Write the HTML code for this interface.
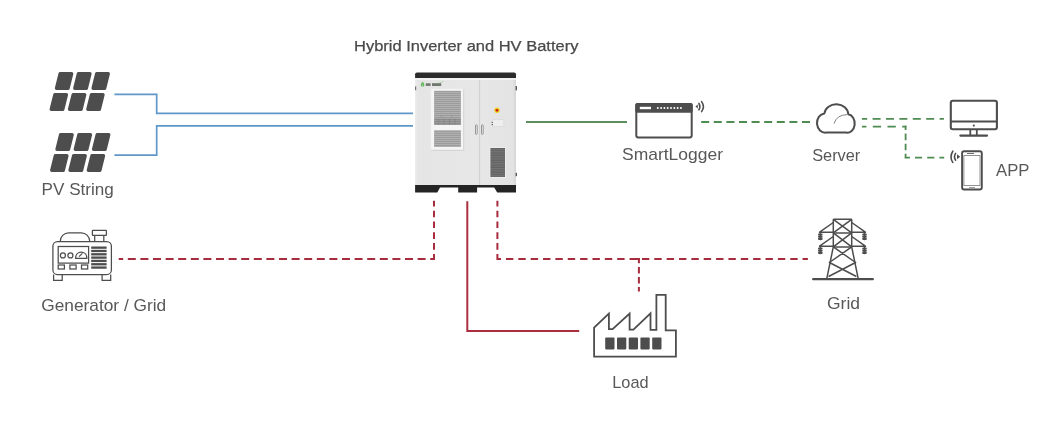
<!DOCTYPE html>
<html><head><meta charset="utf-8"><title>Hybrid Inverter and HV Battery</title>
<style>
html,body{margin:0;padding:0;background:#fff;}
body{width:1060px;height:424px;overflow:hidden;font-family:"Liberation Sans",sans-serif;}
svg{display:block;will-change:transform;}
</style></head><body>
<svg width="1060" height="424" viewBox="0 0 1060 424">
<defs>
<linearGradient id="body" x1="0" y1="0" x2="1" y2="0">
<stop offset="0" stop-color="#ececec"/><stop offset="0.03" stop-color="#e5e5e5"/><stop offset="0.6" stop-color="#e7e7e7"/><stop offset="0.97" stop-color="#e3e3e3"/><stop offset="1" stop-color="#d4d4d4"/>
</linearGradient>
<pattern id="gr1" x="0" y="0" width="8" height="2" patternUnits="userSpaceOnUse">
<rect width="8" height="2" fill="#b0b0b0"/><rect y="1" width="8" height="1" fill="#9c9c9c"/>
</pattern>
<pattern id="gr2" x="0" y="0" width="8" height="2.4" patternUnits="userSpaceOnUse">
<rect width="8" height="2.4" fill="#747474"/><rect y="1.2" width="8" height="1.2" fill="#626262"/>
</pattern>
</defs>
<g fill="none" stroke="#5f98c8" stroke-width="1.7">
<path d="M114.4,94.4 H156.7 V113.3 H413"/>
<path d="M114.4,155.2 H156.7 V125.8 H413"/>
</g>
<path d="M526,122 H627" stroke="#5b8f5d" stroke-width="2" fill="none"/>
<path d="M701.20,122.00H709.20M713.80,122.00H721.80M726.40,122.00H734.40M739.00,122.00H747.00M751.60,122.00H759.60M764.20,122.00H772.20M776.80,122.00H784.80M789.40,122.00H797.40M802.00,122.00H810.00M943.90,118.80H939.60M934.20,118.80H926.20M920.80,118.80H912.80M907.40,118.80H899.40M894.00,118.80H886.00M880.60,118.80H872.60M867.20,118.80H861.90M906.60,126.60H902.20M895.80,126.60H887.50M881.10,126.60H872.80M866.40,126.60H861.90M905.60,125.60V130.10M905.60,133.60V140.20M905.60,143.70V150.30M905.60,153.80V157.70M904.60,157.70H909.90M915.00,157.70H922.10M927.20,157.70H934.30M939.40,157.70H944.20" fill="none" stroke="#4f8c52" stroke-width="1.8"/>
<path d="M467.3,201.3 V330.9 H579.2" stroke="#aa2e3e" stroke-width="2" fill="none"/>
<path d="M435.00,258.90H430.20M425.60,258.90H417.60M413.00,258.90H405.00M400.40,258.90H392.40M387.80,258.90H379.80M375.20,258.90H367.20M362.60,258.90H354.60M350.00,258.90H342.00M337.40,258.90H329.40M324.80,258.90H316.80M312.20,258.90H304.20M299.60,258.90H291.60M287.00,258.90H279.00M274.40,258.90H266.40M261.80,258.90H253.80M249.20,258.90H241.20M236.60,258.90H228.60M224.00,258.90H216.00M211.40,258.90H203.40M198.80,258.90H190.80M186.20,258.90H178.20M173.60,258.90H165.60M161.00,258.90H153.00M148.40,258.90H140.40M135.80,258.90H127.80M123.20,258.90H118.70M434.00,259.90V253.90M434.00,249.70V243.10M434.00,238.90V232.30M434.00,228.10V221.50M434.00,217.30V210.70M434.00,206.50V200.80M497.40,259.90V253.90M497.40,249.70V243.10M497.40,238.90V232.30M497.40,228.10V221.50M497.40,217.30V210.70M497.40,206.50V200.80M496.40,258.90H501.00M505.96,258.90H513.36M518.32,258.90H525.72M530.68,258.90H538.08M543.04,258.90H550.44M555.40,258.90H562.80M567.76,258.90H575.16M580.12,258.90H587.52M592.48,258.90H599.88M604.84,258.90H612.24M617.20,258.90H624.60M629.56,258.90H636.96M641.92,258.90H649.32M654.28,258.90H661.68M666.64,258.90H674.04M679.00,258.90H686.40M691.36,258.90H698.76M703.72,258.90H711.12M716.08,258.90H723.48M728.44,258.90H735.84M740.80,258.90H748.20M753.16,258.90H760.56M765.52,258.90H772.92M777.88,258.90H785.28M790.24,258.90H797.64M802.60,258.90H807.90M638.90,257.90V263.30M638.90,266.90V273.40M638.90,277.00V283.50M638.90,287.10V291.60M635.5,258.9H640" fill="none" stroke="#a62c3e" stroke-width="2"/>
<g fill="#4d4d4d" stroke="#4d4d4d" stroke-width="3.4" stroke-linejoin="round"><polygon points="60.15,73.70 71.65,73.70 68.00,88.30 56.50,88.30"/><polygon points="78.45,73.70 89.95,73.70 86.30,88.30 74.80,88.30"/><polygon points="96.75,73.70 108.25,73.70 104.60,88.30 93.10,88.30"/><polygon points="54.90,94.70 66.40,94.70 62.75,109.30 51.25,109.30"/><polygon points="73.20,94.70 84.70,94.70 81.05,109.30 69.55,109.30"/><polygon points="91.50,94.70 103.00,94.70 99.35,109.30 87.85,109.30"/></g>
<g fill="#4d4d4d" stroke="#4d4d4d" stroke-width="3.4" stroke-linejoin="round"><polygon points="60.65,134.70 72.15,134.70 68.50,149.30 57.00,149.30"/><polygon points="78.95,134.70 90.45,134.70 86.80,149.30 75.30,149.30"/><polygon points="97.25,134.70 108.75,134.70 105.10,149.30 93.60,149.30"/><polygon points="55.40,155.70 66.90,155.70 63.25,170.30 51.75,170.30"/><polygon points="73.70,155.70 85.20,155.70 81.55,170.30 70.05,170.30"/><polygon points="92.00,155.70 103.50,155.70 99.85,170.30 88.35,170.30"/></g>
<g><rect x="415.1" y="77" width="100.9" height="109" fill="url(#body)"/><path d="M415.1,78.1 V74.3 Q415.1,72.5 417,72.5 H514.2 Q516,72.5 516,74.3 V78.1 Z" fill="#2c2c2c"/><rect x="415.1" y="78.1" width="100.9" height="1.8" fill="#f3f3f3"/><path d="M415.1,185 H516 V192.5 H497.2 L494.2,187.6 H477.1 V192.5 H458.2 V187.6 H440 L437.3,192.5 H415.1 Z" fill="#242424"/><line x1="479.6" y1="80" x2="479.6" y2="185" stroke="#c4c4c4" stroke-width="0.7"/><rect x="430.9" y="88.9" width="32.8" height="61.4" fill="#f5f5f5"/><path d="M463.7,88.9 V150.3 H430.9" fill="none" stroke="#cfcfcf" stroke-width="0.9"/><path d="M430.9,150.3 V88.9 H463.7" fill="none" stroke="#ececec" stroke-width="0.6"/><rect x="434.1" y="90.8" width="26.8" height="34.2" fill="url(#gr1)"/><rect x="434.1" y="118.6" width="26.8" height="6.4" fill="#5a5a5a" opacity="0.25"/><path d="M438.5,118.6 V125 M444,118.6 V125 M449.5,118.6 V125 M455,118.6 V125" stroke="#777" stroke-width="0.4"/><path d="M441,115.2 V117.6 M451.5,115 V117.6" stroke="#9a8070" stroke-width="0.5"/><rect x="434.1" y="130.2" width="26.8" height="16.8" fill="url(#gr1)"/><rect x="475.5" y="124.8" width="1.7" height="9.6" rx="0.85" fill="#f0f0f0" stroke="#808080" stroke-width="0.8"/><rect x="481.5" y="124.8" width="1.7" height="9.6" rx="0.85" fill="#f0f0f0" stroke="#808080" stroke-width="0.8"/><circle cx="497" cy="110.3" r="2.7" fill="#ecd21e"/><circle cx="497" cy="110.3" r="1.4" fill="#d01e1e"/><rect x="492.3" y="119.6" width="11.5" height="6.9" rx="0.6" fill="#eeeeee" stroke="#d0d0d0" stroke-width="0.5"/><rect x="491.7" y="121.9" width="1.1" height="1" fill="#3a3a3a"/><rect x="491.7" y="124.1" width="1.1" height="1" fill="#3a3a3a"/><rect x="489.5" y="147.1" width="16.4" height="30.8" fill="#eeeeee"/><rect x="490.4" y="148" width="14.6" height="29" fill="url(#gr2)"/><rect x="515.6" y="86" width="1.4" height="4.4" fill="#5a5a5a"/><rect x="515.6" y="172.8" width="1.4" height="3.4" fill="#5a5a5a"/><rect x="415.1" y="86.4" width="1.1" height="3.8" fill="#6a6a6a"/><path d="M422.6,81.8 Q424.7,83.6 424.4,85.6 Q423.6,86.8 422.6,86.8 Q421.4,86.8 420.8,85.6 Q420.6,83.6 422.6,81.8 Z" fill="#5cb356"/><path d="M422.6,83.5 V87.2" stroke="#d8ecd6" stroke-width="0.5"/><rect x="425.8" y="83.3" width="4.8" height="2.6" fill="#6f776f"/><rect x="432" y="83.2" width="9.2" height="2.8" fill="#6f776f"/><path d="M438.5,83.2 Q441,82.6 443.4,81.4" stroke="#7cc070" stroke-width="0.5" fill="none"/></g>
<g><rect x="636.3" y="104" width="55.4" height="33.4" rx="1.8" fill="none" stroke="#4d4d4d" stroke-width="2"/><rect x="635.3" y="103" width="57.4" height="9.7" rx="1.8" fill="#4d4d4d"/><rect x="639.8" y="106.8" width="11.2" height="2.4" fill="#fff"/><circle cx="657.80" cy="108" r="1" fill="#fff"/><circle cx="661.10" cy="108" r="1" fill="#fff"/><circle cx="664.40" cy="108" r="1" fill="#fff"/><circle cx="667.70" cy="108" r="1" fill="#fff"/><circle cx="671.00" cy="108" r="1" fill="#fff"/><circle cx="674.30" cy="108" r="1" fill="#fff"/><circle cx="677.60" cy="108" r="1" fill="#fff"/><circle cx="680.90" cy="108" r="1" fill="#fff"/><path d="M695.4,106.6 L697.8,104.6 V108.6 Z" fill="#4d4d4d"/><path d="M698.9,103.4 Q700.9,106.6 698.9,109.8 M701.6,101.6 Q705.2,106.6 701.6,111.6" fill="none" stroke="#4d4d4d" stroke-width="1.6" stroke-linecap="round"/></g>
<path d="M826,132.6 A8.2,9.6 0 0 1 824.4,113.4 A12,10.3 0 0 1 848.3,114.2 A7.6,9.3 0 0 1 846,132.6 Z" fill="none" stroke="#4d4d4d" stroke-width="2" stroke-linejoin="round"/>
<path d="M834,123.6 Q836.5,115 847,114.6" fill="none" stroke="#808080" stroke-width="1"/>
<g><rect x="950.8" y="100.8" width="46.1" height="28.5" rx="2" fill="none" stroke="#4d4d4d" stroke-width="2.1"/><line x1="950.8" y1="121.6" x2="996.9" y2="121.6" stroke="#4d4d4d" stroke-width="2"/><circle cx="973.8" cy="125.6" r="1.1" fill="#4d4d4d"/><path d="M970.3,130 V135 M976.8,130 V135" stroke="#4d4d4d" stroke-width="1.8"/><line x1="960.4" y1="135.6" x2="987" y2="135.6" stroke="#4d4d4d" stroke-width="2.3" stroke-linecap="round"/></g>
<g><rect x="962.1" y="151.2" width="19.7" height="38.3" rx="2" fill="none" stroke="#4d4d4d" stroke-width="1.9"/><rect x="963.9" y="155.6" width="16.1" height="30" fill="none" stroke="#777" stroke-width="0.8"/><line x1="967" y1="153.5" x2="974" y2="153.5" stroke="#4d4d4d" stroke-width="0.8"/><line x1="969" y1="187.6" x2="975" y2="187.6" stroke="#4d4d4d" stroke-width="0.6"/><path d="M960.2,156.8 L957,154.3 V159.3 Z" fill="#4d4d4d"/><path d="M955.6,153.4 Q953.4,156.8 955.6,160.2 M952.8,151.2 Q949.2,156.8 952.8,162.4" fill="none" stroke="#4d4d4d" stroke-width="1.6" stroke-linecap="round"/></g>
<g><rect x="52.9" y="241.5" width="58.5" height="33" rx="4.6" stroke="#4d4d4d" stroke-width="1.25" fill="none"/><path d="M60.2,241.5 A8.5,8.6 0 0 1 68.7,232.9 H81.3 A8.5,8.6 0 0 1 89.8,241.5" stroke="#4d4d4d" stroke-width="1.25" fill="none"/><rect x="92.4" y="230.4" width="14" height="5" rx="0.5" stroke="#4d4d4d" stroke-width="1.25" fill="none"/><path d="M94.7,235.4 V241.5 M103.8,235.4 V241.5" stroke="#4d4d4d" stroke-width="1.25" fill="none"/><rect x="58.2" y="246.5" width="30.4" height="16.6" stroke="#4d4d4d" stroke-width="1.25" fill="none"/><circle cx="62.9" cy="255.4" r="2.5" stroke="#4d4d4d" stroke-width="1.25" fill="none"/><circle cx="70.4" cy="255.4" r="2.5" stroke="#4d4d4d" stroke-width="1.25" fill="none"/><path d="M75.6,258.4 C75.6,250 86.9,250 86.9,258.4 Z" stroke="#4d4d4d" stroke-width="1.25" fill="none"/><path d="M79,256.6 L82.4,253.4" stroke="#4d4d4d" stroke-width="1.25" fill="none"/><rect x="58.2" y="265" width="6.2" height="4" stroke="#4d4d4d" stroke-width="1.25" fill="none"/><rect x="69.9" y="265" width="6.2" height="4" stroke="#4d4d4d" stroke-width="1.25" fill="none"/><rect x="81.5" y="265" width="6.2" height="4" stroke="#4d4d4d" stroke-width="1.25" fill="none"/><rect x="91.2" y="246.50" width="15.4" height="2.3" fill="#4d4d4d"/><rect x="91.2" y="249.82" width="15.4" height="2.3" fill="#4d4d4d"/><rect x="91.2" y="253.14" width="15.4" height="2.3" fill="#4d4d4d"/><rect x="91.2" y="256.46" width="15.4" height="2.3" fill="#4d4d4d"/><rect x="91.2" y="259.78" width="15.4" height="2.3" fill="#4d4d4d"/><rect x="91.2" y="263.10" width="15.4" height="2.3" fill="#4d4d4d"/><rect x="91.2" y="266.42" width="15.4" height="2.3" fill="#4d4d4d"/><path d="M53.6,274.5 V280.3 H62.2 V274.5 M102.1,274.5 V280.3 H110.7 V274.5" stroke="#4d4d4d" stroke-width="1.25" fill="none"/></g>
<path d="M594.1,356.7 V327.7 L608.9,313.5 V329.2 H612.6 L629.6,313.5 V329.6 H633.4 L650.5,313.3 V329.9 H656.4 V294.9 H665.7 V330.3 H675.9 V356.7 Z" fill="none" stroke="#4d4d4d" stroke-width="1.8" stroke-linejoin="miter"/>
<rect x="605.2" y="337.6" width="9.3" height="11.8" rx="0.8" fill="#4d4d4d"/>
<rect x="617.0" y="337.6" width="9.3" height="11.8" rx="0.8" fill="#4d4d4d"/>
<rect x="628.7" y="337.6" width="9.3" height="11.8" rx="0.8" fill="#4d4d4d"/>
<rect x="640.4" y="337.6" width="9.3" height="11.8" rx="0.8" fill="#4d4d4d"/>
<rect x="652.2" y="337.6" width="9.3" height="11.8" rx="0.8" fill="#4d4d4d"/>
<g><path d="M833.3,219.3 H851.7 M833.3,219.3 V246.9 L826.8,278.6 M851.7,219.3 V246.9 L858.2,278.6" stroke="#4d4d4d" stroke-width="1.5" fill="none" stroke-linejoin="round"/><path d="M833.3,232.9 H851.7 M833.3,246.9 H851.7" stroke="#4d4d4d" stroke-width="1.5" fill="none" stroke-linejoin="round"/><path d="M833.3,219.3 L851.7,232.9 M851.7,219.3 L833.3,232.9 M833.3,232.9 L851.7,246.9 M851.7,232.9 L833.3,246.9" stroke="#4d4d4d" stroke-width="1.5" fill="none" stroke-linejoin="round"/><path d="M833.3,246.9 L855.6,262.5 L828.6,276.5 M851.7,246.9 L829.4,262.5 L856.4,276.5" stroke="#4d4d4d" stroke-width="1.5" fill="none" stroke-linejoin="round"/><path d="M833.3,222.5 L819.6,232.2 H833.3 M851.7,222.5 L865.4,232.2 H851.7" stroke="#4d4d4d" stroke-width="1.5" fill="none" stroke-linejoin="round"/><path d="M833.3,236.5 L819.6,246.2 H833.3 M851.7,236.5 L865.4,246.2 H851.7" stroke="#4d4d4d" stroke-width="1.5" fill="none" stroke-linejoin="round"/><path d="M820.3,232.2 V240.2" stroke="#4d4d4d" stroke-width="1.2"/><rect x="818.0" y="233.4" width="4.6" height="2.1" rx="1" fill="#4d4d4d"/><rect x="818.0" y="235.6" width="4.6" height="2.1" rx="1" fill="#4d4d4d"/><rect x="818.0" y="237.8" width="4.6" height="2.1" rx="1" fill="#4d4d4d"/><path d="M820.3,246.2 V254.2" stroke="#4d4d4d" stroke-width="1.2"/><rect x="818.0" y="247.4" width="4.6" height="2.1" rx="1" fill="#4d4d4d"/><rect x="818.0" y="249.6" width="4.6" height="2.1" rx="1" fill="#4d4d4d"/><rect x="818.0" y="251.8" width="4.6" height="2.1" rx="1" fill="#4d4d4d"/><path d="M864.5,232.2 V240.2" stroke="#4d4d4d" stroke-width="1.2"/><rect x="862.2" y="233.4" width="4.6" height="2.1" rx="1" fill="#4d4d4d"/><rect x="862.2" y="235.6" width="4.6" height="2.1" rx="1" fill="#4d4d4d"/><rect x="862.2" y="237.8" width="4.6" height="2.1" rx="1" fill="#4d4d4d"/><path d="M864.5,246.2 V254.2" stroke="#4d4d4d" stroke-width="1.2"/><rect x="862.2" y="247.4" width="4.6" height="2.1" rx="1" fill="#4d4d4d"/><rect x="862.2" y="249.6" width="4.6" height="2.1" rx="1" fill="#4d4d4d"/><rect x="862.2" y="251.8" width="4.6" height="2.1" rx="1" fill="#4d4d4d"/><line x1="813.2" y1="279.2" x2="872.8" y2="279.2" stroke="#4d4d4d" stroke-width="2.3" stroke-linecap="round"/></g>
<g fill="#585858" font-family="Liberation Sans, sans-serif"><text x="354" y="50.7" font-size="15.2" textLength="224.4" lengthAdjust="spacingAndGlyphs" fill="#4a4a4a" stroke="#4a4a4a" stroke-width="0.25">Hybrid Inverter and HV Battery</text><text x="41.6" y="194.8" font-size="16.2" textLength="72.2" lengthAdjust="spacingAndGlyphs" >PV String</text><text x="622" y="160.3" font-size="16.2" textLength="101" lengthAdjust="spacingAndGlyphs" >SmartLogger</text><text x="812.2" y="160.9" font-size="16.2" textLength="48.1" lengthAdjust="spacingAndGlyphs" >Server</text><text x="996" y="175.6" font-size="16.2" textLength="33.4" lengthAdjust="spacingAndGlyphs" >APP</text><text x="41.2" y="311.1" font-size="16.2" textLength="125" lengthAdjust="spacingAndGlyphs" >Generator / Grid</text><text x="612.2" y="387.8" font-size="16.2" textLength="36.4" lengthAdjust="spacingAndGlyphs" >Load</text><text x="827" y="308.8" font-size="16.2" textLength="33" lengthAdjust="spacingAndGlyphs" >Grid</text></g>
</svg>
</body></html>
